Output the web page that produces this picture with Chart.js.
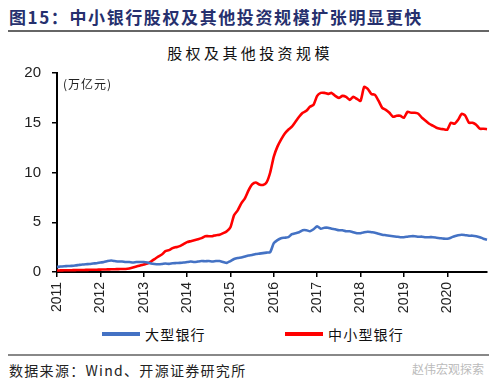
<!DOCTYPE html>
<html>
<head>
<meta charset="utf-8">
<script src="https://cdn.jsdelivr.net/npm/chart.js@4/dist/chart.umd.min.js"></script>
<style>
  html, body { margin:0; padding:0; background:#fff; width:500px; height:384px; overflow:hidden; }
  body { position:relative; font-family:"Noto Sans CJK SC", sans-serif; }
  .abs { position:absolute; white-space:nowrap; }
  #figTitle { left:9px; top:4px; font-size:17px; font-weight:bold; color:#26306e; letter-spacing:1.6px; font-family:"Noto Sans CJK SC", sans-serif; }
  #rule1 { left:8px; top:30px; width:481px; height:2px; background:#666; }
  #chartTitle { left:0; width:500px; text-align:center; top:42px; font-size:15px; color:#111; letter-spacing:3.4px; }
  #unit { left:63px; top:75px; font-size:12px; color:#222; letter-spacing:1px; }
  #chartWrap { position:absolute; left:0; top:60px; }
  .leg { top:325px; font-size:14px; color:#111; letter-spacing:1.2px; line-height:18px; }
  .legLine { position:absolute; height:4px; top:332px; }
  #rule2 { left:8px; top:354px; width:481px; height:2px; background:#888; }
  #source { left:9px; top:360px; font-size:14px; color:#222; letter-spacing:1.3px; }
  #wm { left:412px; top:360px; font-size:12px; color:#bbb; }
</style>
</head>
<body>
<div id="figTitle" class="abs">图15：中小银行股权及其他投资规模扩张明显更快</div>
<div id="rule1" class="abs"></div>
<div id="chartTitle" class="abs">股权及其他投资规模</div>
<div id="chartWrap"><canvas id="c" width="500" height="260"></canvas></div>
<div id="unit" class="abs">(万亿元)</div>
<div id="legend"></div>
<div id="rule2" class="abs"></div>
<div id="source" class="abs">数据来源：Wind、开源证券研究所</div>
<div id="wm" class="abs">赵伟宏观探索</div>
<script>
// ---- data ----
const years = [2011,2012,2013,2014,2015,2016,2017,2018,2019,2020];
const yTicks = [0,5,10,15,20];
const seriesNames = ['大型银行','中小型银行'];
const seriesColors = ['#4472C4','#FF0000'];

// 大型银行 (monthly, 2011-01 .. 2020-12), 万亿元
const largeBanks = [
  0.50,0.55,0.58,0.60,0.62,0.65,0.70,0.75,0.78,0.80,0.85,0.88,
  0.95,1.00,1.10,1.15,1.10,1.05,1.05,1.00,1.00,0.95,1.00,1.00,
  1.00,0.95,0.85,0.80,0.78,0.80,0.85,0.82,0.88,0.90,0.92,0.95,
  1.00,1.05,1.00,1.05,1.10,1.08,1.10,1.05,1.10,1.10,1.00,0.92,
  1.10,1.30,1.40,1.45,1.55,1.65,1.70,1.80,1.85,1.90,1.95,2.00,
  2.90,3.20,3.40,3.45,3.50,3.80,3.90,4.00,4.20,4.20,4.10,4.30,
  4.60,4.35,4.45,4.45,4.35,4.30,4.20,4.20,4.10,4.10,4.00,3.90,
  3.90,4.00,4.05,4.00,3.95,3.85,3.75,3.70,3.65,3.60,3.55,3.50,
  3.50,3.55,3.60,3.60,3.55,3.55,3.50,3.50,3.50,3.45,3.40,3.35,
  3.35,3.45,3.60,3.70,3.75,3.70,3.65,3.65,3.60,3.50,3.35,3.25
];
// 中小型银行
const smallBanks = [
  0.15,0.16,0.17,0.18,0.18,0.19,0.20,0.20,0.21,0.22,0.22,0.23,
  0.24,0.25,0.26,0.27,0.28,0.29,0.30,0.30,0.35,0.45,0.55,0.66,
  0.75,0.85,1.05,1.30,1.55,1.75,2.10,2.20,2.40,2.50,2.60,2.80,
  3.00,3.10,3.20,3.30,3.40,3.60,3.60,3.60,3.70,3.75,3.90,4.10,
  4.50,5.70,6.20,6.90,7.40,8.20,8.80,9.00,8.80,8.75,9.00,10.00,
  11.60,12.60,13.30,13.90,14.30,14.60,15.10,15.60,16.00,16.20,16.60,16.80,
  17.70,18.00,18.00,17.90,18.00,17.70,17.50,17.70,17.60,17.30,17.60,17.40,
  17.20,18.60,18.40,17.90,17.80,17.20,16.50,16.30,16.00,15.60,15.70,15.70,
  15.50,16.10,16.00,16.00,15.90,15.50,15.20,14.90,14.70,14.50,14.40,14.35,
  14.30,15.00,14.90,15.30,15.90,15.70,15.00,15.00,14.80,14.40,14.40,14.35
];

// month labels built from years
const labels = [];
years.forEach(y => { for (let m = 1; m <= 12; m++) labels.push(y + '-' + String(m).padStart(2,'0')); });

// HTML legend from series arrays
const legendLayout = [{line:102, text:145}, {line:285, text:328}];
const legendDiv = document.getElementById('legend');
seriesNames.forEach((n, i) => {
  const l = document.createElement('div');
  l.className = 'legLine';
  l.style.left = legendLayout[i].line + 'px';
  l.style.width = '38px';
  l.style.background = seriesColors[i];
  legendDiv.appendChild(l);
  const t = document.createElement('div');
  t.className = 'abs leg';
  t.style.left = legendLayout[i].text + 'px';
  t.textContent = n;
  legendDiv.appendChild(t);
});

new Chart(document.getElementById('c'), {
  type: 'line',
  data: {
    labels: labels,
    datasets: [
      { label: seriesNames[0], data: largeBanks, borderColor: seriesColors[0], backgroundColor: seriesColors[0], borderWidth: 2.6, pointRadius: 0, tension: 0.2, fill: false },
      { label: seriesNames[1], data: smallBanks, borderColor: seriesColors[1], backgroundColor: seriesColors[1], borderWidth: 2.6, pointRadius: 0, tension: 0.2, fill: false }
    ]
  },
  options: {
    responsive: false,
    devicePixelRatio: 1,
    animation: false,
    layout: { padding: { left: 0, right: 13, top: 13, bottom: 0 } },
    plugins: { legend: { display: false }, tooltip: { enabled: false }, title: { display: false } },
    scales: {
      x: {
        type: 'category',
        offset: false,
        afterFit: s => { s.height = 48; s.paddingLeft = 0; s.paddingRight = 0; },
        border: { display: true, color: '#000', width: 2 },
        grid: {
          drawOnChartArea: false, drawTicks: true, tickLength: 5, lineWidth: 1.5,
          color: ctx => (ctx.tick && labels[ctx.tick.value] && labels[ctx.tick.value].endsWith('-01')) ? '#000' : 'rgba(0,0,0,0)'
        },
        ticks: {
          autoSkip: false, maxRotation: 90, minRotation: 90, padding: 5,
          color: '#222', font: { family: 'Liberation Sans, Arial, sans-serif', size: 14 },
          callback: function(v, i) { const l = labels[i]; return l.endsWith('-01') ? l.slice(0,4) : ''; }
        }
      },
      y: {
        min: yTicks[0], max: yTicks[yTicks.length-1],
        afterFit: s => { s.width = 57; s.paddingTop = 0; s.paddingBottom = 0; },
        afterBuildTicks: s => { s.ticks = yTicks.map(v => ({ value: v })); },
        border: { display: true, color: '#000', width: 2 },
        grid: { drawOnChartArea: false, drawTicks: true, tickLength: 5, color: '#000', lineWidth: 1.5 },
        ticks: { padding: 11, color: '#222', font: { family: 'Liberation Sans, Arial, sans-serif', size: 15 } }
      }
    }
  }
});
</script>
</body>
</html>
